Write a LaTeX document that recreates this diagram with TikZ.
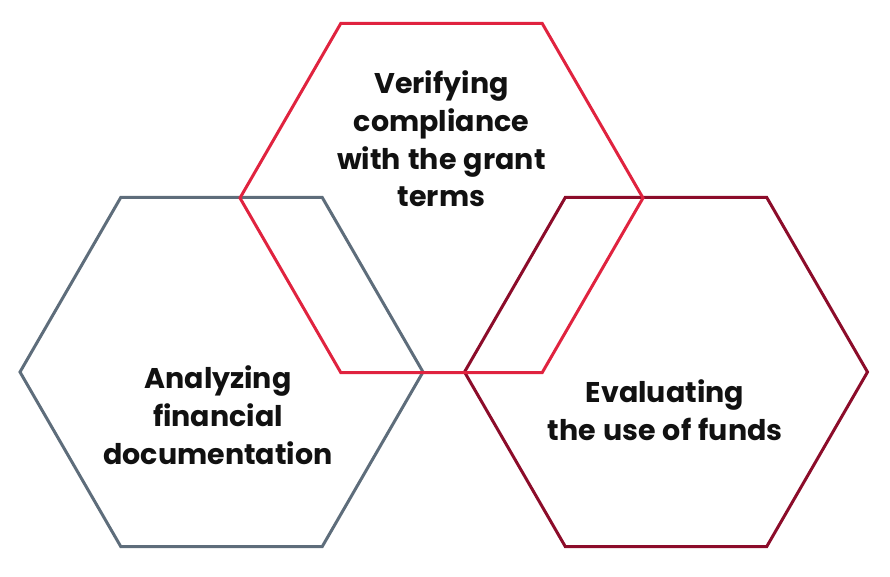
\documentclass[tikz,border=0pt]{standalone}
\usepackage{fontspec}
\setmainfont{Poppins}[WordSpace=1.2]
\usetikzlibrary{shapes.geometric}
\definecolor{hexred}{HTML}{E0233F}
\definecolor{hexslate}{HTML}{5E6D7B}
\definecolor{hexdark}{HTML}{8C0C2A}
\definecolor{txt}{HTML}{111111}
\tikzset{
  hexbox/.style={regular polygon, regular polygon sides=6, minimum size=403pt,
    inner sep=0pt, outer sep=0pt, draw, line width=3pt, line join=miter},
  label text/.style={font=\bfseries\fontsize{28.5}{37.7}\selectfont, text=txt,
    align=center, inner sep=0pt}
}
\begin{document}
\begin{tikzpicture}[x=1pt,y=-1pt]
\useasboundingbox (0,0) rectangle (890,577);
\node[hexbox, draw=hexslate] (hleft) at (221.5,372) {};
\node[hexbox, draw=hexdark] (hright) at (666,372) {};
\node[hexbox, draw=hexred] (htop) at (441.5,198) {};
\node[label text] (ttop) at (441.5,139) {Verifying\\compliance\\with the grant\\terms};
\node[label text] (tleft) at (218,415) {Analyzing\\financial\\documentation};
\node[label text] (tright) at (665,410) {Evaluating\\the use of funds};
\end{tikzpicture}
\end{document}
